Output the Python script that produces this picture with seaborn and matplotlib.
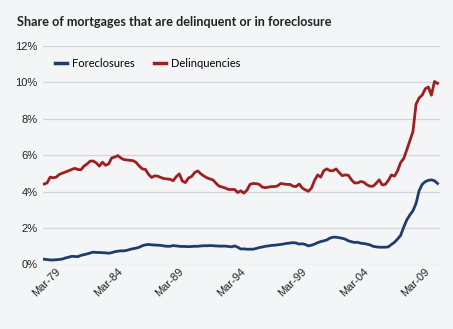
import numpy as np
import pandas as pd
import matplotlib
matplotlib.use("Agg")
import matplotlib.pyplot as plt
import matplotlib.transforms as mtransforms
import seaborn as sns

# Quarterly data, 1978Q1 .. 2010Q1 (percent of mortgages)
start_quarter = "1978Q1"
delinquencies = [
    4.42, 4.48, 4.80, 4.76, 4.80, 4.95, 5.02, 5.08, 5.15, 5.22,
    5.28, 5.22, 5.20, 5.40, 5.52, 5.68, 5.68, 5.58, 5.40, 5.62,
    5.45, 5.52, 5.85, 5.90, 5.98, 5.85, 5.76, 5.74, 5.72, 5.70,
    5.60, 5.40, 5.25, 5.22, 4.95, 4.78, 4.87, 4.85, 4.78, 4.72,
    4.70, 4.68, 4.60, 4.82, 4.98, 4.58, 4.50, 4.75, 4.83, 5.05,
    5.14, 4.98, 4.86, 4.76, 4.70, 4.64, 4.45, 4.30, 4.25, 4.20,
    4.12, 4.12, 4.12, 3.95, 4.05, 3.92, 4.08, 4.40, 4.45, 4.44,
    4.40, 4.25, 4.22, 4.25, 4.28, 4.28, 4.32, 4.45, 4.42, 4.40,
    4.40, 4.30, 4.28, 4.42, 4.20, 4.10, 4.02, 4.20, 4.62, 4.92,
    4.80, 5.15, 5.25, 5.15, 5.15, 5.25, 5.05, 4.88, 4.92, 4.90,
    4.65, 4.48, 4.48, 4.56, 4.52, 4.38, 4.30, 4.30, 4.45, 4.65,
    4.37, 4.40, 4.62, 4.92, 4.85, 5.15, 5.60, 5.82, 6.30, 6.80,
    7.30, 8.80, 9.15, 9.30, 9.65, 9.75, 9.30, 10.05, 9.95,
]
foreclosures = [
    0.29, 0.27, 0.25, 0.25, 0.26, 0.28, 0.30, 0.36, 0.40, 0.45,
    0.44, 0.43, 0.50, 0.54, 0.58, 0.63, 0.68, 0.66, 0.66, 0.65,
    0.64, 0.62, 0.65, 0.70, 0.73, 0.75, 0.75, 0.78, 0.83, 0.87,
    0.90, 0.95, 1.03, 1.08, 1.10, 1.08, 1.07, 1.06, 1.05, 1.02,
    1.00, 1.00, 1.04, 1.02, 1.00, 0.99, 0.99, 0.98, 0.99, 1.00,
    1.00, 1.02, 1.03, 1.03, 1.04, 1.03, 1.02, 1.01, 1.01, 1.01,
    0.99, 0.97, 1.02, 0.95, 0.85, 0.86, 0.84, 0.84, 0.84, 0.88,
    0.93, 0.96, 1.00, 1.02, 1.05, 1.06, 1.08, 1.10, 1.13, 1.16,
    1.18, 1.20, 1.18, 1.12, 1.14, 1.10, 1.02, 1.06, 1.12, 1.20,
    1.26, 1.30, 1.35, 1.45, 1.50, 1.50, 1.47, 1.44, 1.39, 1.30,
    1.25, 1.21, 1.22, 1.17, 1.15, 1.12, 1.08, 1.00, 0.97, 0.95,
    0.95, 0.95, 0.97, 1.10, 1.22, 1.40, 1.60, 2.05, 2.45, 2.72,
    2.95, 3.35, 4.05, 4.40, 4.55, 4.62, 4.65, 4.60, 4.45,
]
tick_labels = ["Mar-79", "Mar-84", "Mar-89", "Mar-94", "Mar-99", "Mar-04", "Mar-09"]
y_ticks = [0, 2, 4, 6, 8, 10, 12]
series_names = ["Foreclosures", "Delinquencies"]
colors = ["#1f3c6e", "#9e1f1f"]

periods = pd.period_range(start_quarter, periods=len(delinquencies), freq="Q")
quarter_labels = [p.to_timestamp(how="end").strftime("%b-%y") for p in periods]
idx = np.arange(len(periods))

df = pd.concat([
    pd.DataFrame({"idx": idx, "value": foreclosures, "series": series_names[0]}),
    pd.DataFrame({"idx": idx, "value": delinquencies, "series": series_names[1]}),
])

bg = "#f4f5f7"
fig = plt.figure(figsize=(4.53, 3.29), dpi=100, facecolor=bg)
ax = fig.add_axes([43 / 453, 1 - 264.5 / 329, (440 - 43) / 453, (264.5 - 46) / 329])
ax.set_facecolor(bg)

sns.lineplot(data=df, x="idx", y="value", hue="series", hue_order=series_names,
             palette=colors, linewidth=2.0, ax=ax, legend=True)

ax.set_xlim(-0.33, 128.8)
ax.set_ylim(0, 12)
ax.set_yticks(y_ticks)
ax.set_yticklabels([f"{v}%" for v in y_ticks], fontfamily="Liberation Sans", fontsize=8, color="#222222")
tick_pos = [quarter_labels.index(lbl) for lbl in tick_labels]
ax.set_xticks(tick_pos)
ax.set_xticklabels(tick_labels, rotation=45, ha="right", va="center", rotation_mode="anchor",
                   fontfamily="Liberation Sans", fontsize=8, color="#222222")
ax.tick_params(axis="both", length=0)
ax.tick_params(axis="x", pad=4)
ax.tick_params(axis="y", pad=4)
shift = mtransforms.ScaledTranslation(3 / 100, 0, fig.dpi_scale_trans)
for lbl in ax.get_xticklabels():
    lbl.set_transform(lbl.get_transform() + shift)
ax.set_xlabel("")
ax.set_ylabel("")
for s in ax.spines.values():
    s.set_visible(False)
ax.grid(axis="y", color="#d4d5d8", linewidth=0.9)
ax.grid(axis="x", visible=False)
ax.set_axisbelow(True)

leg = ax.legend(loc="upper left", bbox_to_anchor=(0.005, 0.99), ncol=2, frameon=False,
                handlelength=1.1, handletextpad=0.4, columnspacing=1.8,
                prop={"family": "Lato", "size": 8})
for line in leg.get_lines():
    line.set_linewidth(2.5)

fig.text(17 / 453, 1 - 22 / 329, "Share of mortgages that are delinquent or in foreclosure",
         fontfamily="Lato", fontweight="bold", fontsize=9.1, va="center", ha="left", color="#222222")

fig.savefig("out.png", dpi=100, facecolor=bg)
